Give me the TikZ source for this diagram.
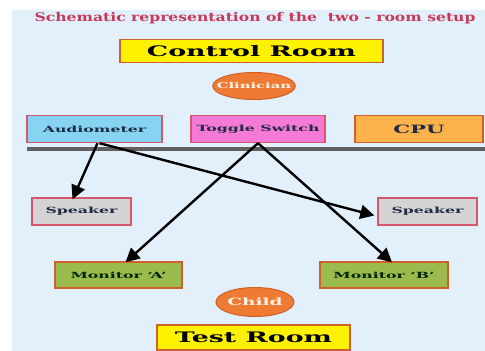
\documentclass[tikz,border=0pt]{standalone}
\usepackage{fontspec}
\setmainfont{DejaVu Serif}
\newfontfamily\boxfont[FakeStretch=1.85]{DejaVu Serif}
\newfontfamily\titlefont[FakeStretch=1.3]{DejaVu Serif}
\usetikzlibrary{positioning, arrows.meta, shapes.geometric}

\definecolor{bgblue}{HTML}{E2F0FB}
\definecolor{titlered}{HTML}{C8385A}
\definecolor{roomyellow}{HTML}{FFF200}
\definecolor{roomedge}{HTML}{D0602A}
\definecolor{audioblue}{HTML}{86D3F2}
\definecolor{togglepink}{HTML}{F47AD6}
\definecolor{cpuorange}{HTML}{FDB34A}
\definecolor{spkgray}{HTML}{D4D4D4}
\definecolor{monigreen}{HTML}{9CBB4E}
\definecolor{pinkedge}{HTML}{D8566A}
\definecolor{personorange}{HTML}{EF7A34}
\definecolor{labelnavy}{HTML}{1E2B45}

\begin{document}
\begin{tikzpicture}[
  x=1pt, y=-1pt,
  room/.style={draw=roomedge, line width=1.6pt, fill=roomyellow, minimum height=23pt, font=\boxfont\bfseries\fontsize{14.5}{15}\selectfont},
  device/.style={draw=pinkedge, line width=1.4pt, minimum height=27pt, text=labelnavy, font=\boxfont\bfseries\fontsize{8.5}{9}\selectfont},
  person/.style={draw=roomedge, line width=1pt, fill=personorange, ellipse, inner sep=0pt, text=white!90!orange, font=\boxfont\bfseries\fontsize{8}{9}\selectfont},
  arrow/.style={-{Triangle[length=14pt,width=14pt]}, line width=2.4pt}
]

\useasboundingbox (0,0) rectangle (485,351);
\fill[bgblue] (12,10) rectangle (485,351);

\node[text=titlered, font=\titlefont\bfseries\fontsize{12}{13}\selectfont] (title) at (255,18) {Schematic representation of the~ two - room setup};

\node[room, minimum width=263pt] (control) at (251.5,51) {Control Room};
\node[person, inner xsep=-8pt, minimum width=80pt, minimum height=27pt] (clinician) at (254,86) {Clinician};

\node[device, fill=audioblue, minimum width=135pt] (audio) at (94.5,129) {Audiometer};
\node[device, fill=togglepink, minimum width=134pt] (toggle) at (258,129) {Toggle Switch};
\node[device, fill=cpuorange, draw=roomedge, minimum width=128pt, font=\boxfont\bfseries\fontsize{11.5}{12}\selectfont] (cpu) at (419,129) {CPU};

\draw[line width=3.5pt, gray!75!black] (27,149) -- (485,149);

\node[device, fill=spkgray, minimum width=99pt] (spkleft) at (81.5,211.5) {Speaker};
\node[device, fill=spkgray, minimum width=99pt] (spkright) at (427.5,211.5) {Speaker};

\node[device, fill=monigreen, draw=roomedge, text=black!85!green, minimum width=127pt, minimum height=26pt] (monA) at (118.5,275) {Monitor ‘A’};
\node[device, fill=monigreen, draw=roomedge, text=black!85!green, minimum width=128pt, minimum height=26pt] (monB) at (384,275) {Monitor ‘B’};

\node[person, minimum width=76pt, minimum height=29pt, font=\boxfont\bfseries\fontsize{10}{11}\selectfont] (child) at (255,302) {Child};
\node[room, minimum width=193pt, minimum height=25pt] (test) at (253.5,337.5) {Test Room};

\draw[arrow] ([xshift=3pt]audio.south) -- ([xshift=-9pt, yshift=-2pt]spkleft.north);
\draw[arrow] ([xshift=5pt]audio.south) -- ([xshift=-3pt, yshift=-4pt]spkright.west);
\draw[arrow] (toggle.south) -- ([xshift=7pt, yshift=-1pt]monA.north);
\draw[arrow] (toggle.south) -- ([xshift=8pt, yshift=-1pt]monB.north);

\end{tikzpicture}
\end{document}
